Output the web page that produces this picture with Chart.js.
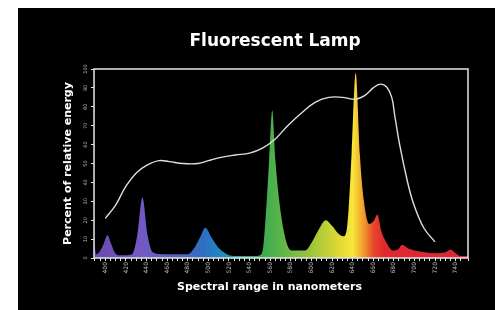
<!DOCTYPE html>
<html>
<head>
<meta charset="utf-8">
<script src="https://cdn.jsdelivr.net/npm/chart.js@4"></script>
<style>
  body { margin: 0; background: #fff; }
  #box { position: absolute; left: 18px; top: 8px; width: 477px; height: 302px; background: #000; }
</style>
</head>
<body>
<div id="box"><canvas id="myChart" width="477" height="302"></canvas></div>
<script>
// textos
const titulo = "Fluorescent Lamp";
const tituloX = "Spectral range in nanometers";
const tituloY = "Percent of relative energy";

// etiquetas de los ejes
const xTickLabels = [400, 420, 440, 460, 480, 500, 520, 540, 560, 580, 600, 620, 640, 660, 680, 700, 720, 740];
const yTickLabels = [0, 10, 20, 30, 40, 50, 60, 70, 80, 90, 100];

// espectro de emision (nm, %)
const espectroNm = [389, 391, 394, 398, 402, 406, 409, 413, 420, 426,
  431, 436, 441, 446, 455, 470, 480, 486, 492, 497,
  503, 509, 515, 520, 530, 545, 550, 553, 556, 559,
  562, 565, 570, 576, 581, 594, 600, 607, 614, 620,
  626, 631, 634, 636, 639, 643, 647, 651, 656, 661,
  664, 668, 673, 679, 684, 688, 694, 700, 710, 720,
  730, 735, 740, 745, 752];
const espectroValor = [11, 2, 3, 7, 12, 7, 3, 1.5, 1.5, 2,
  12, 32, 12, 3, 2, 2, 2, 5, 11, 16,
  11, 6, 3, 1.5, 1, 1, 1.5, 5, 25, 52,
  78, 52, 25, 8, 4, 4, 8, 15, 20, 17,
  13, 11.5, 14, 25, 55, 98, 55, 30, 18, 20,
  23, 14, 8, 4, 4.5, 7, 5, 4, 3, 2.5,
  3, 4.5, 2.5, 1, 1];

// curva blanca (nm, %)
const curvaNm = [400, 410, 420, 430, 440, 452, 462, 475, 490, 500,
  510, 526, 540, 552, 565, 577, 591, 604, 617, 630,
  643, 652, 660, 667, 673, 678, 681, 686, 693, 699,
  709, 720];
const curvaValor = [21, 28, 38, 45, 49, 51.5, 51, 50, 50, 51.5,
  53, 54.5, 55.5, 58, 63, 70, 77, 82.5, 85, 85,
  84, 86, 90, 92, 90.5, 85, 75, 59, 41, 29,
  16, 8.5];

// colores del espectro por longitud de onda
const coloresNm = [389, 430, 450, 475, 495, 515, 530, 548, 570, 600, 625, 640, 650, 660, 670, 752];
const coloresHex = ["#6a48b0", "#7457c4", "#6a5cc0", "#4a66bc", "#2e6ec2", "#1f8cc0", "#20a8a0", "#34a855",
  "#5ab44a", "#9cc63a", "#dcd634", "#f8e63a", "#f2a02c", "#e64a2c", "#e0282e", "#d8283c"];

const X_MIN = 389;
const X_MAX = 752;

const gradiente = (ctx) => {
  const chart = ctx.chart;
  if (!chart.chartArea) return "#7457c4";
  const xs = chart.scales.x;
  const x0 = xs.getPixelForValue(X_MIN);
  const x1 = xs.getPixelForValue(X_MAX);
  const g = chart.ctx.createLinearGradient(x0, 0, x1, 0);
  coloresNm.forEach((nm, i) => {
    g.addColorStop((nm - X_MIN) / (X_MAX - X_MIN), coloresHex[i]);
  });
  return g;
};

// marco blanco alrededor del area
const marco = {
  id: "marco",
  afterDatasetsDraw(chart) {
    const { ctx, chartArea: { left, top, right, bottom } } = chart;
    ctx.save();
    ctx.strokeStyle = "#e6e6e6";
    ctx.lineWidth = 1.5;
    ctx.strokeRect(left, top, right - left, bottom - top);
    ctx.restore();
  },
};

const canvas = document.getElementById("myChart");

new Chart(canvas, {
  type: "line",
  data: {
    datasets: [
      {
        data: curvaNm.map((x, i) => ({ x, y: curvaValor[i] })),
        borderColor: "#dedede",
        borderWidth: 1.4,
        pointRadius: 0,
        fill: false,
        tension: 0.4,
      },
      {
        data: espectroNm.map((x, i) => ({ x, y: espectroValor[i] })),
        borderWidth: 0,
        borderColor: "rgba(0,0,0,0)",
        backgroundColor: gradiente,
        pointRadius: 0,
        fill: "origin",
        cubicInterpolationMode: "monotone",
      },
    ],
  },
  options: {
    responsive: false,
    animation: false,
    layout: { padding: { left: 0, right: 27, top: 0, bottom: 0 } },
    plugins: {
      legend: { display: false },
      tooltip: { enabled: false },
      title: {
        display: true,
        fullSize: false,
        text: titulo + "\u00a0\u00a0",
        color: "#ffffff",
        font: { family: "DejaVu Sans", weight: "bold", size: 17 },
        padding: { top: 23, bottom: 17.6 },
      },
    },
    scales: {
      x: {
        type: "linear",
        min: X_MIN,
        max: X_MAX,
        afterFit: (scale) => { scale.height = 52; },
        grid: { display: true, drawOnChartArea: false, drawTicks: true, tickLength: 3, color: "#e6e6e6" },
        border: { display: false },
        ticks: {
          stepSize: 5,
          autoSkip: false,
          minRotation: 90,
          maxRotation: 90,
          padding: 1,
          color: "#bdbdbd",
          font: { family: "DejaVu Sans", size: 6 },
          callback: (v) => (xTickLabels.includes(v) ? String(v) : ""),
        },
        title: {
          display: true,
          text: tituloX + "\u00a0\u00a0\u00a0\u00a0\u00a0\u00a0",
          color: "#ffffff",
          font: { family: "DejaVu Sans", weight: "bold", size: 11 },
          padding: { top: 0, bottom: 16.4 },
        },
      },
      y: {
        min: 0,
        max: 100,
        afterFit: (scale) => { scale.width = 76; },
        afterBuildTicks: (scale) => { scale.ticks = yTickLabels.map((v) => ({ value: v })); },
        grid: { display: true, drawOnChartArea: false, drawTicks: true, tickLength: 3, color: "#e6e6e6" },
        border: { display: false },
        ticks: {
          minRotation: 90,
          maxRotation: 90,
          crossAlign: "center",
          padding: 0.5,
          color: "#bdbdbd",
          font: { family: "DejaVu Sans", size: 5 },
        },
        title: {
          display: true,
          text: tituloY,
          color: "#ffffff",
          font: { family: "DejaVu Sans", weight: "bold", size: 11 },
          padding: { top: 43.4, bottom: 0 },
        },
      },
    },
  },
  plugins: [marco],
});
</script>
</body>
</html>
